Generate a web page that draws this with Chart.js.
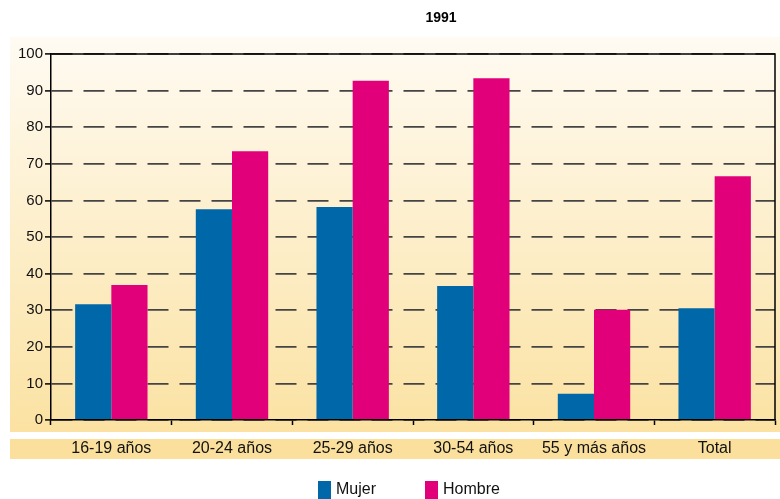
<!DOCTYPE html>
<html>
<head>
<meta charset="utf-8">
<script src="https://cdn.jsdelivr.net/npm/chart.js@4"></script>
<style>
  html, body { margin: 0; padding: 0; background: #fff; }
  #wrap { position: relative; width: 780px; height: 499px; }
</style>
</head>
<body>
<div id="wrap"><canvas id="chart" width="780" height="499"></canvas></div>
<script>
const categories = ['16-19 años', '20-24 años', '25-29 años', '30-54 años', '55 y más años', 'Total'];
const mujer = [31.6, 57.6, 58.2, 36.6, 7.2, 30.5];
const hombre = [36.9, 73.4, 92.7, 93.4, 30.1, 66.6];
const seriesNames = ['Mujer', 'Hombre'];
const chartTitle = '1991';
const yTicks = { min: 0, max: 100, step: 10 };

const BLUE = '#0067a8';
const PINK = '#e2007a';
const FONT = 'Arial, "Liberation Sans", sans-serif';

// background panel, label band, title, frame and legend
const decor = {
    id: 'decor',
    beforeDraw(chart) {
        const ctx = chart.ctx;
        ctx.save();
        ctx.fillStyle = '#fff';
        ctx.fillRect(0, 0, chart.width, chart.height);
        const g = ctx.createLinearGradient(0, 37, 0, 432);
        g.addColorStop(0, '#fffbf3');
        g.addColorStop(1, '#fbe2a2');
        ctx.fillStyle = g;
        ctx.fillRect(10, 37, 770, 395);
        ctx.fillStyle = '#fbe09d';
        ctx.fillRect(10, 439, 770, 20);
        ctx.restore();
    },
    afterDraw(chart) {
        const ctx = chart.ctx;
        const a = chart.chartArea;
        ctx.save();
        ctx.strokeStyle = '#000';
        ctx.lineWidth = 1.5;
        ctx.beginPath();
        ctx.moveTo(a.left, a.top);
        ctx.lineTo(a.right, a.top);
        ctx.lineTo(a.right, a.bottom);
        ctx.stroke();

        ctx.fillStyle = '#000';
        ctx.font = 'bold 14px ' + FONT;
        ctx.textAlign = 'center';
        ctx.textBaseline = 'middle';
        ctx.fillText(chartTitle, 441, 18);

        const legendX = [318, 425];
        ctx.font = '16px ' + FONT;
        ctx.textAlign = 'left';
        chart.data.datasets.forEach((ds, i) => {
            ctx.fillStyle = ds.backgroundColor;
            ctx.fillRect(legendX[i], 481, 13, 18);
            ctx.fillStyle = '#111';
            ctx.fillText(ds.label, legendX[i] + 18, 490);
        });
        ctx.restore();
    }
};

new Chart(document.getElementById('chart'), {
    type: 'bar',
    data: {
        labels: categories,
        datasets: [
            { label: seriesNames[0], data: mujer, backgroundColor: BLUE },
            { label: seriesNames[1], data: hombre, backgroundColor: PINK }
        ]
    },
    options: {
        responsive: false,
        animation: false,
        layout: { padding: { left: 0, right: 5, top: 54, bottom: 0 } },
        datasets: {
            bar: { categoryPercentage: 0.6, barPercentage: 1.0 }
        },
        plugins: {
            legend: { display: false },
            tooltip: { enabled: false }
        },
        scales: {
            x: {
                afterFit: (s) => { s.height = 79; },
                grid: {
                    offset: true,
                    drawOnChartArea: false,
                    drawTicks: true,
                    tickLength: 5,
                    tickColor: '#000',
                    tickWidth: 1.5
                },
                border: { color: '#000', width: 1.5 },
                ticks: {
                    color: '#111',
                    padding: 14,
                    font: { family: FONT, size: 16 }
                }
            },
            y: {
                min: yTicks.min,
                max: yTicks.max,
                afterFit: (s) => { s.width = 51; },
                grid: {
                    color: '#444',
                    lineWidth: 1.8,
                    drawTicks: true,
                    tickLength: 6,
                    tickColor: '#000',
                    tickWidth: 1.5
                },
                border: { color: '#000', width: 1.5, dash: [21, 11] },
                ticks: {
                    stepSize: yTicks.step,
                    color: '#111',
                    padding: 2,
                    font: { family: FONT, size: 15 }
                }
            }
        }
    },
    plugins: [decor]
});
</script>
</body>
</html>
